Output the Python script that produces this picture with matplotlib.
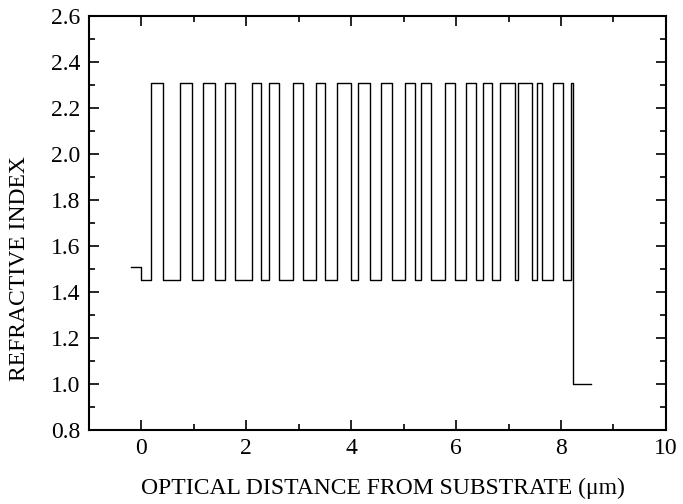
import matplotlib
matplotlib.use('Agg')
import matplotlib.pyplot as plt
from matplotlib.ticker import MultipleLocator

plt.rcParams['font.family'] = ['Liberation Serif', 'DejaVu Serif']

# layer boundaries (optical distance, um) and refractive index of each layer
edges = [-0.19, 0.0, 0.19, 0.41, 0.73, 0.96, 1.18, 1.40, 1.59, 1.78,
         2.12, 2.29, 2.44, 2.63, 2.89, 3.08, 3.34, 3.50, 3.74, 3.99,
         4.13, 4.36, 4.57, 4.78, 5.02, 5.21, 5.34, 5.53, 5.79, 5.98,
         6.19, 6.38, 6.52, 6.68, 6.83, 7.12, 7.18, 7.44, 7.55, 7.645,
         7.84, 8.04, 8.20, 8.23, 8.58]
n_sub = 1.51
n_low = 1.45
n_high = 2.31
n_air = 1.0

index = [n_sub] + [n_low if i % 2 == 0 else n_high for i in range(len(edges) - 3)] + [n_air]

fig = plt.figure(figsize=(6.83, 5.04), dpi=100)
ax = fig.add_axes([0.130, 0.147, 0.845, 0.821])

ax.step(edges, index + [index[-1]], where='post', color='black', linewidth=1.0)

ax.set_xlim(-1, 10)
ax.set_ylim(0.8, 2.6)
ax.xaxis.set_major_locator(MultipleLocator(2))
ax.xaxis.set_minor_locator(MultipleLocator(1))
ax.yaxis.set_major_locator(MultipleLocator(0.2))
ax.yaxis.set_minor_locator(MultipleLocator(0.1))
ax.yaxis.set_major_formatter(plt.FormatStrFormatter('%.1f'))
ax.tick_params(which='both', direction='in', top=True, right=True, labelsize=17, width=1.2)
ax.tick_params(which='major', length=7, pad=6)
ax.tick_params(which='minor', length=4)
for s in ax.spines.values():
    s.set_linewidth(1.5)

ax.set_xlabel('OPTICAL DISTANCE FROM SUBSTRATE (μm)', fontsize=17)
ax.set_ylabel('REFRACTIVE INDEX', fontsize=17)
ax.xaxis.set_label_coords(0.510, -0.115)
ax.yaxis.set_label_coords(-0.102, 0.389)

fig.savefig('out.png', dpi=100)
